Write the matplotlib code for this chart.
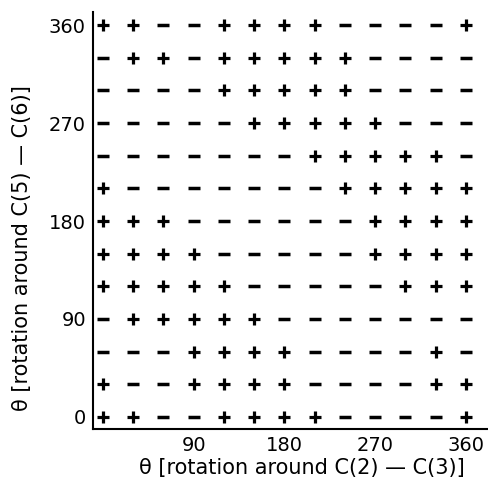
import matplotlib.pyplot as plt

# rotation angles (degrees) for both axes
angles_x = [0, 30, 60, 90, 120, 150, 180, 210, 240, 270, 300, 330, 360]
angles_y = [360, 330, 300, 270, 240, 210, 180, 150, 120, 90, 60, 30, 0]

# sign of the interaction, one string per row, top (360) to bottom (0)
sign_rows = [
    "++--++++----+",
    "-++-+++++----",
    "----+++++----",
    "-----+++++---",
    "-------+++++-",
    "+-------+++++",
    "+++------++++",
    "++++-----++++",
    "+++++-----+++",
    "-+++++-------",
    "---++++----+-",
    "+--++++----++",
    "++--++++----+",
]

x_ticks = [90, 180, 270, 360]
y_ticks = [0, 90, 180, 270, 360]

fig = plt.figure(figsize=(4.89, 4.84), dpi=100)
ax = fig.add_axes([0.190, 0.114, 0.806, 0.861])

plus_x, plus_y, minus_x, minus_y = [], [], [], []
for yv, row in zip(angles_y, sign_rows):
    for xv, s in zip(angles_x, row):
        if s == "+":
            plus_x.append(xv)
            plus_y.append(yv)
        else:
            minus_x.append(xv)
            minus_y.append(yv)

ax.plot(plus_x, plus_y, linestyle="none", marker="+", ms=9, mew=2.3, color="black")
ax.plot(minus_x, minus_y, linestyle="none", marker="_", ms=8.5, mew=2.5, color="black")

ax.set_xlim(-10, 381)
ax.set_ylim(-11, 372)
ax.set_xticks(x_ticks)
ax.set_yticks(y_ticks)
ax.tick_params(length=0, labelsize=14, pad=5)

for side in ["top", "right"]:
    ax.spines[side].set_visible(False)
for side in ["left", "bottom"]:
    ax.spines[side].set_linewidth(1.5)

ax.set_xlabel("θ [rotation around C(2) — C(3)]", fontsize=15, va="center")
ax.set_ylabel("θ [rotation around C(5) — C(6)]", fontsize=15, va="center")
ax.xaxis.set_label_coords(0.530, -0.094)
ax.yaxis.set_label_coords(-0.180, 0.434)

fig.savefig("out.png", dpi=100)
